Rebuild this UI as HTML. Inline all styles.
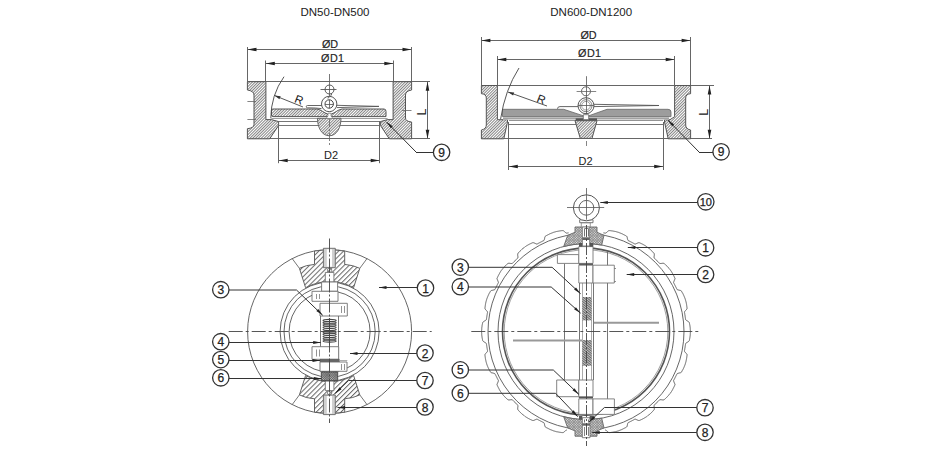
<!DOCTYPE html>
<html><head><meta charset="utf-8"><style>
html,body{margin:0;padding:0;background:#fff;width:940px;height:450px;overflow:hidden}
svg{display:block}
text{font-family:"Liberation Sans",sans-serif}
</style></head><body>
<svg width="940" height="450" viewBox="0 0 940 450">
<rect width="940" height="450" fill="#fff"/>
<defs>
<pattern id="h1" patternUnits="userSpaceOnUse" width="2.0" height="10" patternTransform="rotate(45)"><rect width="2.0" height="10" fill="#fff"/><line x1="0.5" y1="0" x2="0.5" y2="10" stroke="#777" stroke-width="0.9"/></pattern>
<pattern id="h2" patternUnits="userSpaceOnUse" width="3.5" height="10" patternTransform="rotate(45)"><rect width="3.5" height="10" fill="#fff"/><line x1="0.5" y1="0" x2="0.5" y2="10" stroke="#666" stroke-width="1.0"/></pattern>
<pattern id="h3" patternUnits="userSpaceOnUse" width="1.5" height="10" patternTransform="rotate(60)"><rect width="1.5" height="10" fill="#ddd"/><line x1="0.5" y1="0" x2="0.5" y2="10" stroke="#555" stroke-width="0.8"/></pattern>
<pattern id="x1" patternUnits="userSpaceOnUse" width="1.6" height="1.6" patternTransform="rotate(45)"><rect width="1.6" height="1.6" fill="#bbb"/><rect width="0.7" height="1.6" fill="#666"/><rect width="1.6" height="0.7" fill="#666"/></pattern>
<pattern id="x2" patternUnits="userSpaceOnUse" width="1.8" height="1.8" patternTransform="rotate(45)"><rect width="1.8" height="1.8" fill="#e4e4e4"/><rect width="0.75" height="1.8" fill="#888"/><rect width="1.8" height="0.75" fill="#888"/></pattern>
</defs>
<text x="335.0" y="16.0" font-size="11.5" text-anchor="middle" fill="#222" >DN50-DN500</text>
<text x="591.2" y="16.0" font-size="11.5" text-anchor="middle" fill="#222" >DN600-DN1200</text>
<line x1="247.5" y1="47.0" x2="247.5" y2="81.7" stroke="#666" stroke-width="1" />
<line x1="411.5" y1="47.0" x2="411.5" y2="81.7" stroke="#666" stroke-width="1" />
<line x1="265.5" y1="60.5" x2="265.5" y2="81.7" stroke="#666" stroke-width="1" />
<line x1="393.5" y1="60.5" x2="393.5" y2="81.7" stroke="#666" stroke-width="1" />
<line x1="247.5" y1="49.5" x2="411.5" y2="49.5" stroke="#666" stroke-width="1" />
<path d="M247.5,49.5 L256.5,47.7 L256.5,51.3 Z" fill="#222"/>
<path d="M411.5,49.5 L402.5,51.3 L402.5,47.7 Z" fill="#222"/>
<line x1="265.8" y1="63.5" x2="393.3" y2="63.5" stroke="#666" stroke-width="1" />
<path d="M265.8,63.5 L274.8,61.7 L274.8,65.3 Z" fill="#222"/>
<path d="M393.3,63.5 L384.3,65.3 L384.3,61.7 Z" fill="#222"/>
<text x="330.0" y="48.0" font-size="10.8" text-anchor="middle" fill="#222" stroke="#222" stroke-width="0.15">ØD</text>
<text x="332.8" y="61.7" font-size="10.8" text-anchor="middle" fill="#222" letter-spacing="0.4" stroke="#222" stroke-width="0.15">ØD1</text>
<line x1="247.5" y1="81.5" x2="430.0" y2="81.5" stroke="#666" stroke-width="1" />
<line x1="247.5" y1="138.5" x2="430.0" y2="138.5" stroke="#666" stroke-width="1" />
<line x1="427.5" y1="81.7" x2="427.5" y2="138.8" stroke="#666" stroke-width="1" />
<path d="M427.5,81.7 L429.3,90.7 L425.7,90.7 Z" fill="#222"/>
<path d="M427.5,138.8 L425.7,129.8 L429.3,129.8 Z" fill="#222"/>
<text x="421.0" y="112.0" font-size="12.5" text-anchor="middle" fill="#222" transform="rotate(-90 421 112)" dy="4.5">L</text>
<path d="M247.4,81.7 H265.9 V119.6 H271.4 L278.6,121.6 V125.4 L269.7,138.8 H247.4 V128.7 Q254,128 254,124.5 V95 Q254,91 247.4,90 Z" fill="url(#h1)" stroke="#555" stroke-width="1" />
<path d="M411.6,81.7 H393.1 V119.6 H387.6 L380.4,121.6 V125.4 L389.3,138.8 H411.6 V122 Q405.5,121.5 405.5,118 V95 Q405.5,91 411.6,90 Z" fill="url(#h1)" stroke="#555" stroke-width="1" />
<line x1="247.4" y1="101.5" x2="256.0" y2="101.5" stroke="#666" stroke-width="0.8" />
<line x1="247.4" y1="119.5" x2="256.0" y2="119.5" stroke="#666" stroke-width="0.8" />
<line x1="402.0" y1="110.5" x2="411.5" y2="110.5" stroke="#666" stroke-width="0.8" />
<path d="M273,109 H317 C321,109.5 324,113 327.5,114 H331.5 C335,113 338,109.5 342,109 H384 Q386,109 386,111.5 V116.6 H273 Q271.4,116.6 271.4,114 V110.5 Q271.4,109 273,109 Z" fill="url(#h1)" stroke="#555" stroke-width="1" />
<line x1="278.6" y1="121.5" x2="380.4" y2="121.5" stroke="#666" stroke-width="0.9" />
<line x1="278.6" y1="125.5" x2="380.4" y2="125.5" stroke="#666" stroke-width="0.9" />
<line x1="271.4" y1="118.5" x2="387.6" y2="118.5" stroke="#777" stroke-width="0.7" />
<path d="M317.5,118.3 H341 C341,127 337,135.8 329.3,135.8 C321.5,135.8 317.5,127 317.5,118.3 Z" fill="url(#h1)" stroke="#666" stroke-width="1" />
<path d="M328,113.2 H331 V116 L333,118.5 H326 L328,116 Z" fill="#fff" stroke="#666" stroke-width="0.6" />
<path d="M322,105.5 H307.5 Q306.3,105.5 306.3,106.6 Q306.3,107.8 307.5,107.8 Q316,107.8 321.5,108.6" fill="none" stroke="#555" stroke-width="0.9" />
<path d="M336.5,105.3 L379,106.4 L337,107.6" fill="none" stroke="#555" stroke-width="0.9" />
<circle cx="329.2" cy="104.0" r="7.7" fill="#fff" stroke="#555" stroke-width="1.0" />
<circle cx="329.2" cy="104.0" r="4.2" fill="none" stroke="#444" stroke-width="1.0" />
<line x1="325.0" y1="104.5" x2="333.5" y2="104.5" stroke="#555" stroke-width="0.8" />
<line x1="329.5" y1="99.8" x2="329.5" y2="108.3" stroke="#555" stroke-width="0.8" />
<circle cx="329.5" cy="89.5" r="4.5" fill="none" stroke="#444" stroke-width="0.9" />
<line x1="320.5" y1="89.5" x2="336.5" y2="89.5" stroke="#555" stroke-width="0.9" />
<path d="M331.5,93.3 Q332,95.5 330,96.5 Q327.5,97.5 328,98.5" fill="none" stroke="#555" stroke-width="0.9" />
<line x1="329.5" y1="74.0" x2="329.5" y2="96.0" stroke="#555" stroke-width="0.8" />
<line x1="329.5" y1="119.0" x2="329.5" y2="145.0" stroke="#666" stroke-width="0.8" stroke-dasharray="8 2 2 2"/>
<path d="M284,76.7 Q271,95 270.8,118.3" fill="none" stroke="#444" stroke-width="0.9" />
<line x1="274.5" y1="95.5" x2="303.0" y2="107.0" stroke="#444" stroke-width="0.9" />
<path d="M274.5,95.5 L280.7,96.2 L279.4,99.3 Z" fill="#333"/>
<text x="299.2" y="99.8" font-size="11.5" text-anchor="middle" fill="#222" transform="rotate(21 299.2 99.8)" dy="4.1">R</text>
<line x1="278.5" y1="121.0" x2="278.5" y2="163.2" stroke="#666" stroke-width="1" />
<line x1="379.5" y1="121.0" x2="379.5" y2="163.2" stroke="#666" stroke-width="1" />
<line x1="278.7" y1="160.5" x2="379.7" y2="160.5" stroke="#666" stroke-width="1" />
<path d="M278.7,160.5 L287.7,158.7 L287.7,162.3 Z" fill="#222"/>
<path d="M379.7,160.5 L370.7,162.3 L370.7,158.7 Z" fill="#222"/>
<text x="331.0" y="159.0" font-size="11" text-anchor="middle" fill="#222" >D2</text>
<line x1="386.5" y1="122.0" x2="416.0" y2="152.0" stroke="#333" stroke-width="1" />
<line x1="416.0" y1="152.5" x2="434.0" y2="152.5" stroke="#333" stroke-width="1" />
<path d="M386.5,122.0 L392.8,126.3 L390.8,128.3 Z" fill="#222"/>
<circle cx="441.6" cy="152.3" r="8.2" fill="#fff" stroke="#333" stroke-width="1.3"/>
<text x="441.6" y="156.8" font-size="12" text-anchor="middle" fill="#222" stroke="#222" stroke-width="0.25">9</text>
<line x1="481.5" y1="37.0" x2="481.5" y2="85.5" stroke="#666" stroke-width="1" />
<line x1="690.5" y1="37.0" x2="690.5" y2="85.5" stroke="#666" stroke-width="1" />
<line x1="497.5" y1="56.0" x2="497.5" y2="85.5" stroke="#666" stroke-width="1" />
<line x1="674.5" y1="56.0" x2="674.5" y2="85.5" stroke="#666" stroke-width="1" />
<line x1="481.4" y1="40.5" x2="690.6" y2="40.5" stroke="#666" stroke-width="1" />
<path d="M481.4,40.5 L490.4,38.7 L490.4,42.3 Z" fill="#222"/>
<path d="M690.6,40.5 L681.6,42.3 L681.6,38.7 Z" fill="#222"/>
<line x1="497.3" y1="59.5" x2="674.7" y2="59.5" stroke="#666" stroke-width="1" />
<path d="M497.3,59.5 L506.3,57.7 L506.3,61.3 Z" fill="#222"/>
<path d="M674.7,59.5 L665.7,61.3 L665.7,57.7 Z" fill="#222"/>
<text x="588.5" y="39.2" font-size="10.8" text-anchor="middle" fill="#222" stroke="#222" stroke-width="0.15">ØD</text>
<text x="589.8" y="57.4" font-size="10.8" text-anchor="middle" fill="#222" letter-spacing="0.4" stroke="#222" stroke-width="0.15">ØD1</text>
<line x1="481.4" y1="85.5" x2="714.0" y2="85.5" stroke="#666" stroke-width="1" />
<line x1="481.4" y1="138.5" x2="712.0" y2="138.5" stroke="#666" stroke-width="1" />
<line x1="709.5" y1="85.5" x2="709.5" y2="138.8" stroke="#666" stroke-width="1" />
<path d="M709.5,85.5 L711.3,94.5 L707.7,94.5 Z" fill="#222"/>
<path d="M709.5,138.8 L707.7,129.8 L711.3,129.8 Z" fill="#222"/>
<text x="703.3" y="112.2" font-size="12.5" text-anchor="middle" fill="#222" transform="rotate(-90 703.3 112.2)" dy="4.5">L</text>
<path d="M481.4,85.5 H497.4 V119.7 H507.5 V122 L503.8,138.8 H481.4 V130 Q486.3,129 486.3,125 V98 Q486.3,94 481.4,93.7 Z" fill="url(#h1)" stroke="#555" stroke-width="1" />
<path d="M690.6,85.5 H674.6 V116.7 L670,119.7 H664.5 V122 L668.2,138.8 H690.6 V130 Q685.7,129 685.7,125 V98 Q685.7,94 690.6,93.7 Z" fill="url(#h1)" stroke="#555" stroke-width="1" />
<path d="M503,116.5 H669 V119.8 H503 Z" fill="#c4c4c4" stroke="none" stroke-width="0" />
<path d="M502.5,109.3 H563.7 L583,115.7 H589 L607,109.3 H668 Q671,109.3 671,112 V116.6 H502.5 Z" fill="#9d9d9d" stroke="#666" stroke-width="0.8" />
<line x1="503.0" y1="118.5" x2="669.0" y2="118.5" stroke="#999" stroke-width="0.8" />
<line x1="509.0" y1="120.5" x2="663.0" y2="120.5" stroke="#888" stroke-width="0.9" />
<line x1="509.0" y1="124.5" x2="663.0" y2="124.5" stroke="#666" stroke-width="0.9" />
<path d="M575.7,118.3 H597 V120.3 H575.7 Z" fill="#555" stroke="none" stroke-width="0" />
<path d="M575,120.7 H597 L592,138.4 H580.3 Z" fill="url(#h1)" stroke="#555" stroke-width="1" />
<path d="M583.3,114.7 H588.7 V119.7 H583.3 Z" fill="#fff" stroke="#666" stroke-width="0.8" />
<path d="M557.5,108.8 Q557.5,106.6 560,106.6 H578" fill="none" stroke="#555" stroke-width="0.9" />
<path d="M594,104.3 L659,105.5 L594,106.6" fill="none" stroke="#555" stroke-width="0.9" />
<circle cx="586.0" cy="105.7" r="8.0" fill="#fff" stroke="#555" stroke-width="1" />
<circle cx="586.0" cy="105.7" r="6.0" fill="none" stroke="#666" stroke-width="0.8" />
<circle cx="586.0" cy="105.7" r="4.3" fill="none" stroke="#777" stroke-width="0.7" />
<line x1="578.0" y1="105.5" x2="594.0" y2="105.5" stroke="#555" stroke-width="0.8" />
<circle cx="586.0" cy="91.3" r="4.5" fill="none" stroke="#555" stroke-width="0.9" />
<line x1="576.6" y1="91.5" x2="596.2" y2="91.5" stroke="#666" stroke-width="0.8" />
<line x1="586.5" y1="76.2" x2="586.5" y2="114.0" stroke="#555" stroke-width="0.8" />
<line x1="586.5" y1="141.0" x2="586.5" y2="146.0" stroke="#666" stroke-width="0.8" />
<path d="M519,68 Q505,90 500.6,119" fill="none" stroke="#444" stroke-width="0.9" />
<line x1="508.0" y1="92.0" x2="547.0" y2="106.0" stroke="#444" stroke-width="0.9" />
<path d="M508.0,92.0 L514.2,92.4 L513.1,95.6 Z" fill="#333"/>
<text x="541.3" y="99.2" font-size="11.5" text-anchor="middle" fill="#222" transform="rotate(21 541.3 99.2)" dy="4.1">R</text>
<line x1="508.5" y1="122.0" x2="508.5" y2="170.0" stroke="#666" stroke-width="1" />
<line x1="663.5" y1="122.0" x2="663.5" y2="170.0" stroke="#666" stroke-width="1" />
<line x1="508.8" y1="166.5" x2="663.2" y2="166.5" stroke="#666" stroke-width="1" />
<path d="M508.8,166.5 L517.8,164.7 L517.8,168.3 Z" fill="#222"/>
<path d="M663.2,166.5 L654.2,168.3 L654.2,164.7 Z" fill="#222"/>
<text x="585.6" y="164.9" font-size="11" text-anchor="middle" fill="#222" >D2</text>
<line x1="667.8" y1="120.0" x2="699.0" y2="152.0" stroke="#333" stroke-width="1" />
<line x1="699.0" y1="152.5" x2="713.0" y2="152.5" stroke="#333" stroke-width="1" />
<path d="M667.8,120.0 L674.1,124.3 L672.1,126.3 Z" fill="#222"/>
<circle cx="721.1" cy="151.8" r="8.2" fill="#fff" stroke="#333" stroke-width="1.3"/>
<text x="721.1" y="156.3" font-size="12" text-anchor="middle" fill="#222" stroke="#222" stroke-width="0.25">9</text>
<circle cx="329.6" cy="331.6" r="82.0" fill="none" stroke="#555" stroke-width="0.9" />
<circle cx="329.6" cy="331.6" r="49.5" fill="none" stroke="#555" stroke-width="0.9" />
<circle cx="329.6" cy="331.6" r="45.6" fill="none" stroke="#555" stroke-width="0.9" />
<circle cx="329.6" cy="331.6" r="40.5" fill="none" stroke="#555" stroke-width="0.9" />
<path d="M314.5,251.0 V264.4 Q306,265 299.4,268.3 L305.6,287.7 A50,50 0 0 1 353.6,287.7 L359.8,268.3 Q353,265 344.7,264.4 V251.0 A82,82 0 0 0 314.5,251.0 Z" fill="url(#h2)" stroke="#555" stroke-width="0.9" />
<path d="M314.5,412.2 V398.8 Q306,398.2 299.4,394.9 L305.6,375.5 A50,50 0 0 0 353.6,375.5 L359.8,394.9 Q353,398.2 344.7,398.8 V412.2 A82,82 0 0 1 314.5,412.2 Z" fill="url(#h2)" stroke="#555" stroke-width="0.9" />
<line x1="299.4" y1="268.3" x2="292.2" y2="258.6" stroke="#666" stroke-width="0.9" />
<line x1="359.8" y1="268.3" x2="367.0" y2="258.6" stroke="#666" stroke-width="0.9" />
<line x1="299.4" y1="394.9" x2="292.2" y2="404.6" stroke="#666" stroke-width="0.9" />
<line x1="359.8" y1="394.9" x2="367.0" y2="404.6" stroke="#666" stroke-width="0.9" />
<path d="M323.4,248.3 H335.3 V267.7 H323.4 Z" fill="#d0d0d0" stroke="#666" stroke-width="0.9" />
<path d="M326.8,249.3 H332 V266.7 H326.8 Z" fill="#fff" stroke="none" stroke-width="0" />
<path d="M323.4,395 H335.3 V414.6 H323.4 Z" fill="#d0d0d0" stroke="#666" stroke-width="0.9" />
<path d="M326.8,396 H332 V413.6 H326.8 Z" fill="#fff" stroke="none" stroke-width="0" />
<circle cx="329.6" cy="270.2" r="2.2" fill="none" stroke="#666" stroke-width="0.8" />
<circle cx="329.6" cy="392.8" r="2.2" fill="none" stroke="#666" stroke-width="0.8" />
<path d="M325.3,272.4 H333.9 V282 H325.3 Z" fill="#fff" stroke="#666" stroke-width="0.8" />
<path d="M325.3,381 H333.9 V390.6 H325.3 Z" fill="#fff" stroke="#666" stroke-width="0.8" />
<path d="M321.6,282 H337.6 V291.3 H321.6 Z" fill="#fff" stroke="#707070" stroke-width="0.9" />
<path d="M312,291.3 H338 V301.3 H312 Z" fill="#fff" stroke="#707070" stroke-width="0.9" />
<line x1="316.5" y1="294.0" x2="316.5" y2="299.0" stroke="#777" stroke-width="0.8" />
<line x1="319.5" y1="294.0" x2="319.5" y2="299.0" stroke="#777" stroke-width="0.8" />
<path d="M320,303.3 H347.3 V316 H320 Z" fill="#fff" stroke="#707070" stroke-width="0.9" />
<line x1="341.5" y1="306.0" x2="341.5" y2="313.0" stroke="#777" stroke-width="0.8" />
<line x1="344.5" y1="306.0" x2="344.5" y2="313.0" stroke="#777" stroke-width="0.8" />
<line x1="320.5" y1="316.0" x2="320.5" y2="372.0" stroke="#666" stroke-width="0.9" />
<line x1="338.5" y1="316.0" x2="338.5" y2="372.0" stroke="#666" stroke-width="0.9" />
<ellipse cx="329.6" cy="320.4" rx="6.6" ry="1.05" fill="none" stroke="#444" stroke-width="1.1"/>
<ellipse cx="329.6" cy="322.7" rx="6.6" ry="1.05" fill="none" stroke="#444" stroke-width="1.1"/>
<ellipse cx="329.6" cy="325.0" rx="6.6" ry="1.05" fill="none" stroke="#444" stroke-width="1.1"/>
<ellipse cx="329.6" cy="327.3" rx="6.6" ry="1.05" fill="none" stroke="#444" stroke-width="1.1"/>
<ellipse cx="329.6" cy="329.6" rx="6.6" ry="1.05" fill="none" stroke="#444" stroke-width="1.1"/>
<ellipse cx="329.6" cy="331.9" rx="6.6" ry="1.05" fill="none" stroke="#444" stroke-width="1.1"/>
<ellipse cx="329.6" cy="334.2" rx="6.6" ry="1.05" fill="none" stroke="#444" stroke-width="1.1"/>
<ellipse cx="329.6" cy="336.5" rx="6.6" ry="1.05" fill="none" stroke="#444" stroke-width="1.1"/>
<ellipse cx="329.6" cy="338.8" rx="6.6" ry="1.05" fill="none" stroke="#444" stroke-width="1.1"/>
<ellipse cx="329.6" cy="341.1" rx="6.6" ry="1.05" fill="none" stroke="#444" stroke-width="1.1"/>
<line x1="329.5" y1="318.0" x2="329.5" y2="345.0" stroke="#444" stroke-width="0.9" />
<path d="M312,346.7 H338.7 V359.3 H312 Z" fill="#fff" stroke="#707070" stroke-width="0.9" />
<line x1="316.5" y1="349.5" x2="316.5" y2="356.5" stroke="#777" stroke-width="0.8" />
<line x1="319.5" y1="349.5" x2="319.5" y2="356.5" stroke="#777" stroke-width="0.8" />
<path d="M320,359.3 H339.3 V362 H320 Z" fill="#666" stroke="#555" stroke-width="0.6" />
<line x1="339.3" y1="360.5" x2="347.3" y2="360.5" stroke="#999" stroke-width="0.8" />
<path d="M320,362 H347 V371.3 H320 Z" fill="#fff" stroke="#707070" stroke-width="0.9" />
<line x1="341.5" y1="364.0" x2="341.5" y2="370.0" stroke="#777" stroke-width="0.8" />
<line x1="344.5" y1="364.0" x2="344.5" y2="370.0" stroke="#777" stroke-width="0.8" />
<path d="M321.3,372 H337.7 V380.7 H321.3 Z" fill="url(#x1)" stroke="#444" stroke-width="0.9" />
<line x1="329.5" y1="238.5" x2="329.5" y2="423.0" stroke="#444" stroke-width="0.9" stroke-dasharray="14 2 2 2"/>
<line x1="228.7" y1="331.5" x2="431.7" y2="331.5" stroke="#444" stroke-width="0.9" stroke-dasharray="14 3 3 3"/>
<path d="M228.8,290 H296.5 L322.7,315.3" fill="none" stroke="#333" stroke-width="1" />
<path d="M322.7,315.3 L316.3,311.1 L318.3,309.1 Z" fill="#222"/>
<line x1="228.8" y1="342.5" x2="320.7" y2="342.5" stroke="#333" stroke-width="1" />
<path d="M320.7,342.5 L313.2,343.9 L313.2,341.1 Z" fill="#222"/>
<line x1="228.8" y1="360.5" x2="320.0" y2="360.5" stroke="#333" stroke-width="1" />
<path d="M320.0,360.5 L312.5,361.9 L312.5,359.1 Z" fill="#222"/>
<line x1="228.8" y1="378.5" x2="321.3" y2="378.5" stroke="#333" stroke-width="1" />
<path d="M321.3,378.5 L313.8,379.9 L313.8,377.1 Z" fill="#222"/>
<circle cx="220.8" cy="289.7" r="8.2" fill="#fff" stroke="#333" stroke-width="1.3"/>
<text x="220.8" y="294.2" font-size="12" text-anchor="middle" fill="#222" stroke="#222" stroke-width="0.25">3</text>
<circle cx="220.8" cy="341.7" r="8.2" fill="#fff" stroke="#333" stroke-width="1.3"/>
<text x="220.8" y="346.2" font-size="12" text-anchor="middle" fill="#222" stroke="#222" stroke-width="0.25">4</text>
<circle cx="220.8" cy="359.6" r="8.2" fill="#fff" stroke="#333" stroke-width="1.3"/>
<text x="220.8" y="364.1" font-size="12" text-anchor="middle" fill="#222" stroke="#222" stroke-width="0.25">5</text>
<circle cx="220.8" cy="377.8" r="8.2" fill="#fff" stroke="#333" stroke-width="1.3"/>
<text x="220.8" y="382.3" font-size="12" text-anchor="middle" fill="#222" stroke="#222" stroke-width="0.25">6</text>
<line x1="417.5" y1="287.5" x2="379.0" y2="287.5" stroke="#333" stroke-width="1" />
<path d="M379.0,287.5 L386.5,286.1 L386.5,288.9 Z" fill="#222"/>
<line x1="417.0" y1="353.5" x2="350.0" y2="353.5" stroke="#333" stroke-width="1" />
<path d="M350.0,353.5 L357.5,352.1 L357.5,354.9 Z" fill="#222"/>
<path d="M417,380.5 H348.4 L335.2,393.4" fill="none" stroke="#333" stroke-width="1" />
<path d="M335.2,393.4 L339.6,387.2 L341.5,389.2 Z" fill="#222"/>
<line x1="417.0" y1="407.5" x2="337.5" y2="407.5" stroke="#333" stroke-width="1" />
<path d="M337.5,407.5 L345.0,406.1 L345.0,408.9 Z" fill="#222"/>
<circle cx="425.5" cy="288.0" r="8.2" fill="#fff" stroke="#333" stroke-width="1.3"/>
<text x="425.5" y="292.5" font-size="12" text-anchor="middle" fill="#222" stroke="#222" stroke-width="0.25">1</text>
<circle cx="425.0" cy="353.0" r="8.2" fill="#fff" stroke="#333" stroke-width="1.3"/>
<text x="425.0" y="357.5" font-size="12" text-anchor="middle" fill="#222" stroke="#222" stroke-width="0.25">2</text>
<circle cx="425.0" cy="380.5" r="8.2" fill="#fff" stroke="#333" stroke-width="1.3"/>
<text x="425.0" y="385.0" font-size="12" text-anchor="middle" fill="#222" stroke="#222" stroke-width="0.25">7</text>
<circle cx="425.0" cy="407.0" r="8.2" fill="#fff" stroke="#333" stroke-width="1.3"/>
<text x="425.0" y="411.5" font-size="12" text-anchor="middle" fill="#222" stroke="#222" stroke-width="0.25">8</text>
<path d="M603.4,232.8 L603.8,232.9 L604.1,232.9 L604.5,233.0 L604.8,233.1 L605.1,233.1 L605.5,233.1 L605.9,233.0 L606.3,232.7 L606.7,232.4 L607.2,231.9 L607.6,231.5 L608.1,231.1 L608.5,230.8 L608.9,230.6 L609.3,230.6 L609.7,230.6 L610.1,230.6 L610.4,230.7 L610.8,230.7 L611.1,230.8 L611.5,230.8 L611.9,230.9 L612.2,230.9 L612.6,231.0 L612.9,231.0 L613.3,231.1 L613.7,231.2 L614.0,231.2 L614.4,231.3 L614.7,231.4 L615.1,231.4 L615.5,231.5 L615.8,231.6 L616.2,231.7 L616.5,231.8 L616.9,231.9 L617.2,232.0 L617.6,232.1 L617.9,232.2 L618.3,232.3 L618.6,232.4 L619.0,232.5 L619.3,232.7 L619.6,232.8 L620.0,232.9 L620.3,233.1 L620.7,233.2 L621.0,233.3 L621.3,233.5 L621.7,233.6 L622.0,233.8 L622.3,233.9 L622.7,234.1 L623.0,234.2 L623.3,234.4 L623.6,234.6 L624.0,234.7 L624.3,234.9 L624.6,235.1 L624.9,235.3 L625.2,235.4 L625.6,235.6 L625.9,235.8 L626.2,236.0 L626.5,236.1 L626.8,236.4 L627.0,236.8 L627.2,237.3 L627.3,237.9 L627.4,238.5 L627.6,239.1 L627.7,239.7 L627.9,240.1 L628.1,240.5 L628.4,240.7 L628.7,240.8 L629.0,241.0 L629.3,241.1 L629.7,241.3 L630.0,241.5 L630.3,241.6 L630.6,241.8 L630.9,241.9 L631.2,242.1 L631.5,242.2 L631.8,242.4 L632.2,242.6 L632.5,242.7 L632.8,242.9 L633.1,243.0 L633.4,243.2 L633.7,243.4 L634.0,243.5 L634.3,243.7 L634.6,243.9 L635.0,244.0 L635.4,244.0 L635.9,243.8 L636.4,243.6 L636.9,243.4 L637.5,243.1 L638.1,242.9 L638.6,242.7 L639.0,242.6 L639.4,242.7 L639.7,242.9 L640.1,243.0 L640.4,243.2 L640.7,243.3 L641.1,243.5 L641.4,243.6 L641.7,243.8 L642.1,244.0 L642.4,244.1 L642.7,244.3 L643.0,244.5 L643.3,244.6 L643.7,244.8 L644.0,245.0 L644.3,245.2 L644.6,245.3 L644.9,245.5 L645.2,245.7 L645.6,245.9 L645.9,246.1 L646.2,246.3 L646.5,246.5 L646.8,246.7 L647.1,246.9 L647.4,247.1 L647.7,247.4 L647.9,247.6 L648.2,247.8 L648.5,248.0 L648.8,248.2 L649.1,248.5 L649.4,248.7 L649.6,249.0 L649.9,249.2 L650.2,249.4 L650.5,249.7 L650.7,249.9 L651.0,250.2 L651.3,250.4 L651.5,250.7 L651.8,250.9 L652.0,251.2 L652.3,251.5 L652.5,251.7 L652.8,252.0 L653.0,252.3 L653.3,252.5 L653.5,252.8 L653.8,253.1 L654.0,253.3 L654.2,253.7 L654.3,254.1 L654.3,254.7 L654.3,255.3 L654.2,255.9 L654.1,256.5 L654.1,257.1 L654.1,257.6 L654.2,258.0 L654.4,258.2 L654.7,258.5 L654.9,258.7 L655.2,259.0 L655.4,259.2 L655.7,259.5 L655.9,259.7 L656.2,259.9 L656.4,260.2 L656.7,260.4 L656.9,260.7 L657.2,260.9 L657.4,261.2 L657.7,261.4 L657.9,261.7 L658.1,261.9 L658.4,262.2 L658.6,262.4 L658.9,262.7 L659.1,262.9 L659.4,263.2 L659.6,263.4 L660.0,263.5 L660.5,263.5 L661.1,263.5 L661.7,263.4 L662.3,263.3 L662.9,263.3 L663.5,263.3 L663.9,263.4 L664.3,263.6 L664.5,263.8 L664.8,264.1 L665.1,264.3 L665.3,264.6 L665.6,264.8 L665.9,265.1 L666.1,265.3 L666.4,265.6 L666.7,265.8 L666.9,266.1 L667.2,266.3 L667.4,266.6 L667.7,266.9 L667.9,267.1 L668.2,267.4 L668.4,267.7 L668.6,268.0 L668.9,268.2 L669.1,268.5 L669.4,268.8 L669.6,269.1 L669.8,269.4 L670.0,269.7 L670.2,269.9 L670.5,270.2 L670.7,270.5 L670.9,270.8 L671.1,271.1 L671.3,271.4 L671.5,271.7 L671.7,272.0 L671.9,272.4 L672.1,272.7 L672.3,273.0 L672.4,273.3 L672.6,273.6 L672.8,273.9 L673.0,274.3 L673.1,274.6 L673.3,274.9 L673.5,275.2 L673.6,275.5 L673.8,275.9 L674.0,276.2 L674.1,276.5 L674.3,276.9 L674.4,277.2 L674.6,277.5 L674.7,277.9 L674.9,278.2 L675.0,278.6 L674.9,279.0 L674.7,279.5 L674.5,280.1 L674.2,280.7 L674.0,281.2 L673.8,281.7 L673.6,282.2 L673.6,282.6 L673.7,283.0 L673.9,283.3 L674.1,283.6 L674.2,283.9 L674.4,284.2 L674.6,284.5 L674.7,284.8 L674.9,285.1 L675.0,285.4 L675.2,285.8 L675.4,286.1 L675.5,286.4 L675.7,286.7 L675.8,287.0 L676.0,287.3 L676.1,287.6 L676.3,287.9 L676.5,288.3 L676.6,288.6 L676.8,288.9 L676.9,289.2 L677.1,289.5 L677.5,289.7 L677.9,289.9 L678.5,290.0 L679.1,290.2 L679.7,290.3 L680.3,290.4 L680.8,290.6 L681.2,290.8 L681.5,291.1 L681.6,291.4 L681.8,291.7 L682.0,292.0 L682.2,292.4 L682.3,292.7 L682.5,293.0 L682.7,293.3 L682.9,293.6 L683.0,294.0 L683.2,294.3 L683.4,294.6 L683.5,294.9 L683.7,295.3 L683.8,295.6 L684.0,295.9 L684.1,296.3 L684.3,296.6 L684.4,296.9 L684.5,297.3 L684.7,297.6 L684.8,298.0 L684.9,298.3 L685.1,298.6 L685.2,299.0 L685.3,299.3 L685.4,299.7 L685.5,300.0 L685.6,300.4 L685.7,300.7 L685.8,301.1 L685.9,301.4 L686.0,301.8 L686.1,302.1 L686.2,302.5 L686.2,302.9 L686.3,303.2 L686.4,303.6 L686.4,303.9 L686.5,304.3 L686.6,304.7 L686.6,305.0 L686.7,305.4 L686.7,305.7 L686.8,306.1 L686.8,306.5 L686.9,306.8 L686.9,307.2 L687.0,307.5 L687.0,307.9 L687.0,308.3 L687.0,308.7 L686.8,309.1 L686.5,309.5 L686.1,310.0 L685.7,310.4 L685.2,310.9 L684.9,311.3 L684.6,311.7 L684.5,312.1 L684.5,312.5 L684.5,312.8 L684.6,313.1 L684.7,313.5 L684.7,313.8 L684.8,314.2 L684.8,314.5 L684.9,314.9 L685.0,315.2 L685.0,315.6 L685.1,315.9 L685.1,316.3 L685.2,316.6 L685.2,316.9 L685.3,317.3 L685.3,317.6 L685.4,318.0 L685.4,318.3 L685.5,318.7 L685.5,319.0 L685.6,319.4 L685.7,319.7 L685.9,320.0 L686.3,320.3 L686.8,320.7 L687.3,320.9 L687.9,321.3 L688.4,321.6 L688.8,321.9 L689.1,322.2 L689.3,322.6 L689.4,322.9 L689.5,323.3 L689.5,323.6 L689.6,324.0 L689.7,324.4 L689.7,324.7 L689.8,325.1 L689.9,325.4 L689.9,325.8 L690.0,326.2 L690.0,326.5 L690.1,326.9 L690.1,327.2 L690.2,327.6 L690.2,328.0 L690.2,328.3 L690.3,328.7 L690.3,329.1 L690.3,329.4 L690.3,329.8 L690.4,330.1 L690.4,330.5 L690.4,330.9 L690.4,331.2 L690.4,331.6 L690.4,332.0 L690.4,332.3 L690.4,332.7 L690.4,333.1 L690.3,333.4 L690.3,333.8 L690.3,334.1 L690.3,334.5 L690.2,334.9 L690.2,335.2 L690.2,335.6 L690.1,336.0 L690.1,336.3 L690.0,336.7 L690.0,337.0 L689.9,337.4 L689.9,337.8 L689.8,338.1 L689.7,338.5 L689.7,338.8 L689.6,339.2 L689.5,339.6 L689.5,339.9 L689.4,340.3 L689.3,340.6 L689.1,341.0 L688.8,341.3 L688.4,341.6 L687.9,341.9 L687.3,342.3 L686.8,342.5 L686.3,342.9 L685.9,343.2 L685.7,343.5 L685.6,343.8 L685.5,344.2 L685.5,344.5 L685.4,344.9 L685.4,345.2 L685.3,345.6 L685.3,345.9 L685.2,346.3 L685.2,346.6 L685.1,346.9 L685.1,347.3 L685.0,347.6 L685.0,348.0 L684.9,348.3 L684.8,348.7 L684.8,349.0 L684.7,349.4 L684.7,349.7 L684.6,350.1 L684.5,350.4 L684.5,350.7 L684.5,351.1 L684.6,351.5 L684.9,351.9 L685.2,352.3 L685.7,352.8 L686.1,353.2 L686.5,353.7 L686.8,354.1 L687.0,354.5 L687.0,354.9 L687.0,355.3 L687.0,355.7 L686.9,356.0 L686.9,356.4 L686.8,356.7 L686.8,357.1 L686.7,357.5 L686.7,357.8 L686.6,358.2 L686.6,358.5 L686.5,358.9 L686.4,359.3 L686.4,359.6 L686.3,360.0 L686.2,360.3 L686.2,360.7 L686.1,361.1 L686.0,361.4 L685.9,361.8 L685.8,362.1 L685.7,362.5 L685.6,362.8 L685.5,363.2 L685.4,363.5 L685.3,363.9 L685.2,364.2 L685.1,364.6 L684.9,364.9 L684.8,365.2 L684.7,365.6 L684.5,365.9 L684.4,366.3 L684.3,366.6 L684.1,366.9 L684.0,367.3 L683.8,367.6 L683.7,367.9 L683.5,368.3 L683.4,368.6 L683.2,368.9 L683.0,369.2 L682.9,369.6 L682.7,369.9 L682.5,370.2 L682.3,370.5 L682.2,370.8 L682.0,371.2 L681.8,371.5 L681.6,371.8 L681.5,372.1 L681.2,372.4 L680.8,372.6 L680.3,372.8 L679.7,372.9 L679.1,373.0 L678.5,373.2 L677.9,373.3 L677.5,373.5 L677.1,373.7 L676.9,374.0 L676.8,374.3 L676.6,374.6 L676.5,374.9 L676.3,375.3 L676.1,375.6 L676.0,375.9 L675.8,376.2 L675.7,376.5 L675.5,376.8 L675.4,377.1 L675.2,377.4 L675.0,377.8 L674.9,378.1 L674.7,378.4 L674.6,378.7 L674.4,379.0 L674.2,379.3 L674.1,379.6 L673.9,379.9 L673.7,380.2 L673.6,380.6 L673.6,381.0 L673.8,381.5 L674.0,382.0 L674.2,382.5 L674.5,383.1 L674.7,383.7 L674.9,384.2 L675.0,384.6 L674.9,385.0 L674.7,385.3 L674.6,385.7 L674.4,386.0 L674.3,386.3 L674.1,386.7 L674.0,387.0 L673.8,387.3 L673.6,387.7 L673.5,388.0 L673.3,388.3 L673.1,388.6 L673.0,388.9 L672.8,389.3 L672.6,389.6 L672.4,389.9 L672.3,390.2 L672.1,390.5 L671.9,390.8 L671.7,391.2 L671.5,391.5 L671.3,391.8 L671.1,392.1 L670.9,392.4 L670.7,392.7 L670.5,393.0 L670.2,393.3 L670.0,393.5 L669.8,393.8 L669.6,394.1 L669.4,394.4 L669.1,394.7 L668.9,395.0 L668.6,395.2 L668.4,395.5 L668.2,395.8 L667.9,396.1 L667.7,396.3 L667.4,396.6 L667.2,396.9 L666.9,397.1 L666.7,397.4 L666.4,397.6 L666.1,397.9 L665.9,398.1 L665.6,398.4 L665.3,398.6 L665.1,398.9 L664.8,399.1 L664.5,399.4 L664.3,399.6 L663.9,399.8 L663.5,399.9 L662.9,399.9 L662.3,399.9 L661.7,399.8 L661.1,399.7 L660.5,399.7 L660.0,399.7 L659.6,399.8 L659.4,400.0 L659.1,400.3 L658.9,400.5 L658.6,400.8 L658.4,401.0 L658.1,401.3 L657.9,401.5 L657.7,401.8 L657.4,402.0 L657.2,402.3 L656.9,402.5 L656.7,402.8 L656.4,403.0 L656.2,403.3 L655.9,403.5 L655.7,403.7 L655.4,404.0 L655.2,404.2 L654.9,404.5 L654.7,404.7 L654.4,405.0 L654.2,405.2 L654.1,405.6 L654.1,406.1 L654.1,406.7 L654.2,407.3 L654.3,407.9 L654.3,408.5 L654.3,409.1 L654.2,409.5 L654.0,409.9 L653.8,410.1 L653.5,410.4 L653.3,410.7 L653.0,410.9 L652.8,411.2 L652.5,411.5 L652.3,411.7 L652.0,412.0 L651.8,412.3 L651.5,412.5 L651.3,412.8 L651.0,413.0 L650.7,413.3 L650.5,413.5 L650.2,413.8 L649.9,414.0 L649.6,414.2 L649.4,414.5 L649.1,414.7 L648.8,415.0 L648.5,415.2 L648.2,415.4 L647.9,415.6 L647.7,415.8 L647.4,416.1 L647.1,416.3 L646.8,416.5 L646.5,416.7 L646.2,416.9 L645.9,417.1 L645.6,417.3 L645.2,417.5 L644.9,417.7 L644.6,417.9 L644.3,418.0 L644.0,418.2 L643.7,418.4 L643.3,418.6 L643.0,418.7 L642.7,418.9 L642.4,419.1 L642.1,419.2 L641.7,419.4 L641.4,419.6 L641.1,419.7 L640.7,419.9 L640.4,420.0 L640.1,420.2 L639.7,420.3 L639.4,420.5 L639.0,420.6 L638.6,420.5 L638.1,420.3 L637.5,420.1 L636.9,419.8 L636.4,419.6 L635.9,419.4 L635.4,419.2 L635.0,419.2 L634.6,419.3 L634.3,419.5 L634.0,419.7 L633.7,419.8 L633.4,420.0 L633.1,420.2 L632.8,420.3 L632.5,420.5 L632.2,420.6 L631.8,420.8 L631.5,421.0 L631.2,421.1 L630.9,421.3 L630.6,421.4 L630.3,421.6 L630.0,421.7 L629.7,421.9 L629.3,422.1 L629.0,422.2 L628.7,422.4 L628.4,422.5 L628.1,422.7 L627.9,423.1 L627.7,423.5 L627.6,424.1 L627.4,424.7 L627.3,425.3 L627.2,425.9 L627.0,426.4 L626.8,426.8 L626.5,427.1 L626.2,427.2 L625.9,427.4 L625.6,427.6 L625.2,427.8 L624.9,427.9 L624.6,428.1 L624.3,428.3 L624.0,428.5 L623.6,428.6 L623.3,428.8 L623.0,429.0 L622.7,429.1 L622.3,429.3 L622.0,429.4 L621.7,429.6 L621.3,429.7 L621.0,429.9 L620.7,430.0 L620.3,430.1 L620.0,430.3 L619.6,430.4 L619.3,430.5 L619.0,430.7 L618.6,430.8 L618.3,430.9 L617.9,431.0 L617.6,431.1 L617.2,431.2 L616.9,431.3 L616.5,431.4 L616.2,431.5 L615.8,431.6 L615.5,431.7 L615.1,431.8 L614.7,431.8 L614.4,431.9 L614.0,432.0 L613.7,432.0 L613.3,432.1 L612.9,432.2 L612.6,432.2 L612.2,432.3 L611.9,432.3 L611.5,432.4 L611.1,432.4 L610.8,432.5 L610.4,432.5 L610.1,432.6 L609.7,432.6 L609.3,432.6 L608.9,432.6 L608.5,432.4 L608.1,432.1 L607.6,431.7 L607.2,431.3 L606.7,430.8 L606.3,430.5 L605.9,430.2 L605.5,430.1 L605.1,430.1" fill="none" stroke="#555" stroke-width="0.95" />
<path d="M566.9,430.1 L566.5,430.1 L566.1,430.2 L565.7,430.5 L565.3,430.8 L564.8,431.3 L564.4,431.7 L563.9,432.1 L563.5,432.4 L563.1,432.6 L562.7,432.6 L562.3,432.6 L561.9,432.6 L561.6,432.5 L561.2,432.5 L560.9,432.4 L560.5,432.4 L560.1,432.3 L559.8,432.3 L559.4,432.2 L559.1,432.2 L558.7,432.1 L558.3,432.0 L558.0,432.0 L557.6,431.9 L557.3,431.8 L556.9,431.8 L556.5,431.7 L556.2,431.6 L555.8,431.5 L555.5,431.4 L555.1,431.3 L554.8,431.2 L554.4,431.1 L554.1,431.0 L553.7,430.9 L553.4,430.8 L553.0,430.7 L552.7,430.5 L552.4,430.4 L552.0,430.3 L551.7,430.1 L551.3,430.0 L551.0,429.9 L550.7,429.7 L550.3,429.6 L550.0,429.4 L549.7,429.3 L549.3,429.1 L549.0,429.0 L548.7,428.8 L548.4,428.6 L548.0,428.5 L547.7,428.3 L547.4,428.1 L547.1,427.9 L546.8,427.8 L546.4,427.6 L546.1,427.4 L545.8,427.2 L545.5,427.1 L545.2,426.8 L545.0,426.4 L544.8,425.9 L544.7,425.3 L544.6,424.7 L544.4,424.1 L544.3,423.5 L544.1,423.1 L543.9,422.7 L543.6,422.5 L543.3,422.4 L543.0,422.2 L542.7,422.1 L542.3,421.9 L542.0,421.7 L541.7,421.6 L541.4,421.4 L541.1,421.3 L540.8,421.1 L540.5,421.0 L540.2,420.8 L539.8,420.6 L539.5,420.5 L539.2,420.3 L538.9,420.2 L538.6,420.0 L538.3,419.8 L538.0,419.7 L537.7,419.5 L537.4,419.3 L537.0,419.2 L536.6,419.2 L536.1,419.4 L535.6,419.6 L535.1,419.8 L534.5,420.1 L533.9,420.3 L533.4,420.5 L533.0,420.6 L532.6,420.5 L532.3,420.3 L531.9,420.2 L531.6,420.0 L531.3,419.9 L530.9,419.7 L530.6,419.6 L530.3,419.4 L529.9,419.2 L529.6,419.1 L529.3,418.9 L529.0,418.7 L528.7,418.6 L528.3,418.4 L528.0,418.2 L527.7,418.0 L527.4,417.9 L527.1,417.7 L526.8,417.5 L526.4,417.3 L526.1,417.1 L525.8,416.9 L525.5,416.7 L525.2,416.5 L524.9,416.3 L524.6,416.1 L524.3,415.8 L524.1,415.6 L523.8,415.4 L523.5,415.2 L523.2,415.0 L522.9,414.7 L522.6,414.5 L522.4,414.2 L522.1,414.0 L521.8,413.8 L521.5,413.5 L521.3,413.3 L521.0,413.0 L520.7,412.8 L520.5,412.5 L520.2,412.3 L520.0,412.0 L519.7,411.7 L519.5,411.5 L519.2,411.2 L519.0,410.9 L518.7,410.7 L518.5,410.4 L518.2,410.1 L518.0,409.9 L517.8,409.5 L517.7,409.1 L517.7,408.5 L517.7,407.9 L517.8,407.3 L517.9,406.7 L517.9,406.1 L517.9,405.6 L517.8,405.2 L517.6,405.0 L517.3,404.7 L517.1,404.5 L516.8,404.2 L516.6,404.0 L516.3,403.7 L516.1,403.5 L515.8,403.3 L515.6,403.0 L515.3,402.8 L515.1,402.5 L514.8,402.3 L514.6,402.0 L514.3,401.8 L514.1,401.5 L513.9,401.3 L513.6,401.0 L513.4,400.8 L513.1,400.5 L512.9,400.3 L512.6,400.0 L512.4,399.8 L512.0,399.7 L511.5,399.7 L510.9,399.7 L510.3,399.8 L509.7,399.9 L509.1,399.9 L508.5,399.9 L508.1,399.8 L507.7,399.6 L507.5,399.4 L507.2,399.1 L506.9,398.9 L506.7,398.6 L506.4,398.4 L506.1,398.1 L505.9,397.9 L505.6,397.6 L505.3,397.4 L505.1,397.1 L504.8,396.9 L504.6,396.6 L504.3,396.3 L504.1,396.1 L503.8,395.8 L503.6,395.5 L503.4,395.2 L503.1,395.0 L502.9,394.7 L502.6,394.4 L502.4,394.1 L502.2,393.8 L502.0,393.5 L501.8,393.3 L501.5,393.0 L501.3,392.7 L501.1,392.4 L500.9,392.1 L500.7,391.8 L500.5,391.5 L500.3,391.2 L500.1,390.8 L499.9,390.5 L499.7,390.2 L499.6,389.9 L499.4,389.6 L499.2,389.3 L499.0,388.9 L498.9,388.6 L498.7,388.3 L498.5,388.0 L498.4,387.7 L498.2,387.3 L498.0,387.0 L497.9,386.7 L497.7,386.3 L497.6,386.0 L497.4,385.7 L497.3,385.3 L497.1,385.0 L497.0,384.6 L497.1,384.2 L497.3,383.7 L497.5,383.1 L497.8,382.5 L498.0,382.0 L498.2,381.5 L498.4,381.0 L498.4,380.6 L498.3,380.2 L498.1,379.9 L497.9,379.6 L497.8,379.3 L497.6,379.0 L497.4,378.7 L497.3,378.4 L497.1,378.1 L497.0,377.8 L496.8,377.4 L496.6,377.1 L496.5,376.8 L496.3,376.5 L496.2,376.2 L496.0,375.9 L495.9,375.6 L495.7,375.3 L495.5,374.9 L495.4,374.6 L495.2,374.3 L495.1,374.0 L494.9,373.7 L494.5,373.5 L494.1,373.3 L493.5,373.2 L492.9,373.0 L492.3,372.9 L491.7,372.8 L491.2,372.6 L490.8,372.4 L490.5,372.1 L490.4,371.8 L490.2,371.5 L490.0,371.2 L489.8,370.8 L489.7,370.5 L489.5,370.2 L489.3,369.9 L489.1,369.6 L489.0,369.2 L488.8,368.9 L488.6,368.6 L488.5,368.3 L488.3,367.9 L488.2,367.6 L488.0,367.3 L487.9,366.9 L487.7,366.6 L487.6,366.3 L487.5,365.9 L487.3,365.6 L487.2,365.2 L487.1,364.9 L486.9,364.6 L486.8,364.2 L486.7,363.9 L486.6,363.5 L486.5,363.2 L486.4,362.8 L486.3,362.5 L486.2,362.1 L486.1,361.8 L486.0,361.4 L485.9,361.1 L485.8,360.7 L485.8,360.3 L485.7,360.0 L485.6,359.6 L485.6,359.3 L485.5,358.9 L485.4,358.5 L485.4,358.2 L485.3,357.8 L485.3,357.5 L485.2,357.1 L485.2,356.7 L485.1,356.4 L485.1,356.0 L485.0,355.7 L485.0,355.3 L485.0,354.9 L485.0,354.5 L485.2,354.1 L485.5,353.7 L485.9,353.2 L486.3,352.8 L486.8,352.3 L487.1,351.9 L487.4,351.5 L487.5,351.1 L487.5,350.7 L487.5,350.4 L487.4,350.1 L487.3,349.7 L487.3,349.4 L487.2,349.0 L487.2,348.7 L487.1,348.3 L487.0,348.0 L487.0,347.6 L486.9,347.3 L486.9,346.9 L486.8,346.6 L486.8,346.3 L486.7,345.9 L486.7,345.6 L486.6,345.2 L486.6,344.9 L486.5,344.5 L486.5,344.2 L486.4,343.8 L486.3,343.5 L486.1,343.2 L485.7,342.9 L485.2,342.5 L484.7,342.3 L484.1,341.9 L483.6,341.6 L483.2,341.3 L482.9,341.0 L482.7,340.6 L482.6,340.3 L482.5,339.9 L482.5,339.6 L482.4,339.2 L482.3,338.8 L482.3,338.5 L482.2,338.1 L482.1,337.8 L482.1,337.4 L482.0,337.0 L482.0,336.7 L481.9,336.3 L481.9,336.0 L481.8,335.6 L481.8,335.2 L481.8,334.9 L481.7,334.5 L481.7,334.1 L481.7,333.8 L481.7,333.4 L481.6,333.1 L481.6,332.7 L481.6,332.3 L481.6,332.0 L481.6,331.6 L481.6,331.2 L481.6,330.9 L481.6,330.5 L481.6,330.1 L481.7,329.8 L481.7,329.4 L481.7,329.1 L481.7,328.7 L481.8,328.3 L481.8,328.0 L481.8,327.6 L481.9,327.2 L481.9,326.9 L482.0,326.5 L482.0,326.2 L482.1,325.8 L482.1,325.4 L482.2,325.1 L482.3,324.7 L482.3,324.4 L482.4,324.0 L482.5,323.6 L482.5,323.3 L482.6,322.9 L482.7,322.6 L482.9,322.2 L483.2,321.9 L483.6,321.6 L484.1,321.3 L484.7,320.9 L485.2,320.7 L485.7,320.3 L486.1,320.0 L486.3,319.7 L486.4,319.4 L486.5,319.0 L486.5,318.7 L486.6,318.3 L486.6,318.0 L486.7,317.6 L486.7,317.3 L486.8,316.9 L486.8,316.6 L486.9,316.3 L486.9,315.9 L487.0,315.6 L487.0,315.2 L487.1,314.9 L487.2,314.5 L487.2,314.2 L487.3,313.8 L487.3,313.5 L487.4,313.1 L487.5,312.8 L487.5,312.5 L487.5,312.1 L487.4,311.7 L487.1,311.3 L486.8,310.9 L486.3,310.4 L485.9,310.0 L485.5,309.5 L485.2,309.1 L485.0,308.7 L485.0,308.3 L485.0,307.9 L485.0,307.5 L485.1,307.2 L485.1,306.8 L485.2,306.5 L485.2,306.1 L485.3,305.7 L485.3,305.4 L485.4,305.0 L485.4,304.7 L485.5,304.3 L485.6,303.9 L485.6,303.6 L485.7,303.2 L485.8,302.9 L485.8,302.5 L485.9,302.1 L486.0,301.8 L486.1,301.4 L486.2,301.1 L486.3,300.7 L486.4,300.4 L486.5,300.0 L486.6,299.7 L486.7,299.3 L486.8,299.0 L486.9,298.6 L487.1,298.3 L487.2,298.0 L487.3,297.6 L487.5,297.3 L487.6,296.9 L487.7,296.6 L487.9,296.3 L488.0,295.9 L488.2,295.6 L488.3,295.3 L488.5,294.9 L488.6,294.6 L488.8,294.3 L489.0,294.0 L489.1,293.6 L489.3,293.3 L489.5,293.0 L489.7,292.7 L489.8,292.4 L490.0,292.0 L490.2,291.7 L490.4,291.4 L490.5,291.1 L490.8,290.8 L491.2,290.6 L491.7,290.4 L492.3,290.3 L492.9,290.2 L493.5,290.0 L494.1,289.9 L494.5,289.7 L494.9,289.5 L495.1,289.2 L495.2,288.9 L495.4,288.6 L495.5,288.3 L495.7,287.9 L495.9,287.6 L496.0,287.3 L496.2,287.0 L496.3,286.7 L496.5,286.4 L496.6,286.1 L496.8,285.8 L497.0,285.4 L497.1,285.1 L497.3,284.8 L497.4,284.5 L497.6,284.2 L497.8,283.9 L497.9,283.6 L498.1,283.3 L498.3,283.0 L498.4,282.6 L498.4,282.2 L498.2,281.7 L498.0,281.2 L497.8,280.7 L497.5,280.1 L497.3,279.5 L497.1,279.0 L497.0,278.6 L497.1,278.2 L497.3,277.9 L497.4,277.5 L497.6,277.2 L497.7,276.9 L497.9,276.5 L498.0,276.2 L498.2,275.9 L498.4,275.5 L498.5,275.2 L498.7,274.9 L498.9,274.6 L499.0,274.3 L499.2,273.9 L499.4,273.6 L499.6,273.3 L499.7,273.0 L499.9,272.7 L500.1,272.4 L500.3,272.0 L500.5,271.7 L500.7,271.4 L500.9,271.1 L501.1,270.8 L501.3,270.5 L501.5,270.2 L501.8,269.9 L502.0,269.7 L502.2,269.4 L502.4,269.1 L502.6,268.8 L502.9,268.5 L503.1,268.2 L503.4,268.0 L503.6,267.7 L503.8,267.4 L504.1,267.1 L504.3,266.9 L504.6,266.6 L504.8,266.3 L505.1,266.1 L505.3,265.8 L505.6,265.6 L505.9,265.3 L506.1,265.1 L506.4,264.8 L506.7,264.6 L506.9,264.3 L507.2,264.1 L507.5,263.8 L507.7,263.6 L508.1,263.4 L508.5,263.3 L509.1,263.3 L509.7,263.3 L510.3,263.4 L510.9,263.5 L511.5,263.5 L512.0,263.5 L512.4,263.4 L512.6,263.2 L512.9,262.9 L513.1,262.7 L513.4,262.4 L513.6,262.2 L513.9,261.9 L514.1,261.7 L514.3,261.4 L514.6,261.2 L514.8,260.9 L515.1,260.7 L515.3,260.4 L515.6,260.2 L515.8,259.9 L516.1,259.7 L516.3,259.5 L516.6,259.2 L516.8,259.0 L517.1,258.7 L517.3,258.5 L517.6,258.2 L517.8,258.0 L517.9,257.6 L517.9,257.1 L517.9,256.5 L517.8,255.9 L517.7,255.3 L517.7,254.7 L517.7,254.1 L517.8,253.7 L518.0,253.3 L518.2,253.1 L518.5,252.8 L518.7,252.5 L519.0,252.3 L519.2,252.0 L519.5,251.7 L519.7,251.5 L520.0,251.2 L520.2,250.9 L520.5,250.7 L520.7,250.4 L521.0,250.2 L521.3,249.9 L521.5,249.7 L521.8,249.4 L522.1,249.2 L522.4,249.0 L522.6,248.7 L522.9,248.5 L523.2,248.2 L523.5,248.0 L523.8,247.8 L524.1,247.6 L524.3,247.4 L524.6,247.1 L524.9,246.9 L525.2,246.7 L525.5,246.5 L525.8,246.3 L526.1,246.1 L526.4,245.9 L526.8,245.7 L527.1,245.5 L527.4,245.3 L527.7,245.2 L528.0,245.0 L528.3,244.8 L528.7,244.6 L529.0,244.5 L529.3,244.3 L529.6,244.1 L529.9,244.0 L530.3,243.8 L530.6,243.6 L530.9,243.5 L531.3,243.3 L531.6,243.2 L531.9,243.0 L532.3,242.9 L532.6,242.7 L533.0,242.6 L533.4,242.7 L533.9,242.9 L534.5,243.1 L535.1,243.4 L535.6,243.6 L536.1,243.8 L536.6,244.0 L537.0,244.0 L537.4,243.9 L537.7,243.7 L538.0,243.5 L538.3,243.4 L538.6,243.2 L538.9,243.0 L539.2,242.9 L539.5,242.7 L539.8,242.6 L540.2,242.4 L540.5,242.2 L540.8,242.1 L541.1,241.9 L541.4,241.8 L541.7,241.6 L542.0,241.5 L542.3,241.3 L542.7,241.1 L543.0,241.0 L543.3,240.8 L543.6,240.7 L543.9,240.5 L544.1,240.1 L544.3,239.7 L544.4,239.1 L544.6,238.5 L544.7,237.9 L544.8,237.3 L545.0,236.8 L545.2,236.4 L545.5,236.1 L545.8,236.0 L546.1,235.8 L546.4,235.6 L546.8,235.4 L547.1,235.3 L547.4,235.1 L547.7,234.9 L548.0,234.7 L548.4,234.6 L548.7,234.4 L549.0,234.2 L549.3,234.1 L549.7,233.9 L550.0,233.8 L550.3,233.6 L550.7,233.5 L551.0,233.3 L551.3,233.2 L551.7,233.1 L552.0,232.9 L552.4,232.8 L552.7,232.7 L553.0,232.5 L553.4,232.4 L553.7,232.3 L554.1,232.2 L554.4,232.1 L554.8,232.0 L555.1,231.9 L555.5,231.8 L555.8,231.7 L556.2,231.6 L556.5,231.5 L556.9,231.4 L557.3,231.4 L557.6,231.3 L558.0,231.2 L558.3,231.2 L558.7,231.1 L559.1,231.0 L559.4,231.0 L559.8,230.9 L560.1,230.9 L560.5,230.8 L560.9,230.8 L561.2,230.7 L561.6,230.7 L561.9,230.6 L562.3,230.6 L562.7,230.6 L563.1,230.6 L563.5,230.8 L563.9,231.1 L564.4,231.5 L564.8,231.9 L565.3,232.4 L565.7,232.7 L566.1,233.0 L566.5,233.1 L566.9,233.1 L567.2,233.1 L567.5,233.0 L567.9,232.9 L568.2,232.9 L568.6,232.8" fill="none" stroke="#555" stroke-width="0.95" />
<circle cx="586.0" cy="331.6" r="98.0" fill="none" stroke="#555" stroke-width="0.9" />
<circle cx="586.0" cy="331.6" r="88.0" fill="none" stroke="#555" stroke-width="0.9" />
<circle cx="586.0" cy="331.6" r="83.5" fill="none" stroke="#555" stroke-width="1.6" />
<circle cx="586.0" cy="331.6" r="81.8" fill="none" stroke="#777" stroke-width="0.7" />
<line x1="564.5" y1="263.4" x2="564.5" y2="380.0" stroke="#666" stroke-width="0.9" />
<line x1="607.5" y1="252.0" x2="607.5" y2="399.0" stroke="#666" stroke-width="0.9" />
<line x1="579.5" y1="283.0" x2="579.5" y2="380.0" stroke="#666" stroke-width="0.9" />
<line x1="593.5" y1="283.0" x2="593.5" y2="380.0" stroke="#666" stroke-width="0.9" />
<line x1="582.5" y1="283.0" x2="582.5" y2="380.0" stroke="#888" stroke-width="0.7" />
<line x1="591.5" y1="283.0" x2="591.5" y2="380.0" stroke="#888" stroke-width="0.7" />
<path d="M582.3,297 H591.6 V320.4 H582.3 Z" fill="url(#h3)" stroke="none" stroke-width="0" />
<path d="M582.3,340 H591.6 V365.8 H582.3 Z" fill="url(#h3)" stroke="none" stroke-width="0" />
<line x1="593.9" y1="322.8" x2="659.0" y2="322.8" stroke="#999" stroke-width="2" />
<line x1="513.0" y1="340.5" x2="582.0" y2="340.5" stroke="#999" stroke-width="2" />
<path d="M557.4,254.6 H578.8 V263.4 H557.4 Z" fill="#fff" stroke="#777" stroke-width="0.9" />
<path d="M578.8,246.6 H593 V263.4 H578.8 Z" fill="#fff" stroke="#777" stroke-width="0.9" />
<line x1="578.8" y1="264.3" x2="593.0" y2="264.3" stroke="#555" stroke-width="1.6" />
<path d="M578.8,265.2 H593 V283 H578.8 Z" fill="#fff" stroke="#777" stroke-width="0.9" />
<path d="M593,265.2 H614.3 V283 H593 Z" fill="#fff" stroke="#777" stroke-width="0.9" />
<line x1="614.3" y1="268.5" x2="616.0" y2="268.5" stroke="#666" stroke-width="0.7" />
<line x1="614.3" y1="281.5" x2="616.0" y2="281.5" stroke="#666" stroke-width="0.7" />
<path d="M556.7,380 H578.8 V396.7 H556.7 Z" fill="#fff" stroke="#777" stroke-width="0.9" />
<path d="M578.8,380 H593 V396.7 H578.8 Z" fill="#fff" stroke="#777" stroke-width="0.9" />
<line x1="578.8" y1="397.7" x2="593.0" y2="397.7" stroke="#555" stroke-width="1.6" />
<path d="M578.8,398.9 H593 V414.4 H578.8 Z" fill="#fff" stroke="#777" stroke-width="0.9" />
<path d="M593,398.9 H614.4 V414.4 H593 Z" fill="#fff" stroke="#777" stroke-width="0.9" />
<path d="M575,227 H597 V232.3 L604,235.3 L601.7,245.0 A88,88 0 0 0 563.7,246.5 L567.7,235.3 L575,232.3 Z" fill="url(#x2)" stroke="#666" stroke-width="0.9" />
<path d="M575,436.2 H597 V430.9 L604,427.9 L601.7,418.2 A88,88 0 0 1 563.7,416.7 L567.7,427.9 L575,430.9 Z" fill="url(#x2)" stroke="#666" stroke-width="0.9" />
<path d="M581.3,222.7 H590.3 V227 H581.3 Z" fill="#fff" stroke="#777" stroke-width="0.7" />
<path d="M582.3,227 H589.7 V246 H582.3 Z" fill="#fff" stroke="#666" stroke-width="0.8" />
<line x1="584.5" y1="229.0" x2="584.5" y2="236.5" stroke="#666" stroke-width="0.9" />
<line x1="588.5" y1="229.0" x2="588.5" y2="236.5" stroke="#666" stroke-width="0.9" />
<line x1="584.3" y1="228.5" x2="588.7" y2="228.5" stroke="#666" stroke-width="0.9" />
<path d="M582.3,237.3 H589.7 V240 H582.3 Z" fill="#666" stroke="none" stroke-width="0" />
<path d="M579,243 H582.3 V246.7 H579 Z" fill="#555" stroke="none" stroke-width="0" />
<path d="M589.7,243 H593.3 V246.7 H589.7 Z" fill="#555" stroke="none" stroke-width="0" />
<path d="M579.7,219.7 H593 V222.7 H579.7 Z" fill="#fff" stroke="#666" stroke-width="0.9" />
<path d="M582.3,417.7 H590 V437.7 H582.3 Z" fill="#fff" stroke="#666" stroke-width="0.8" />
<line x1="584.5" y1="419.5" x2="584.5" y2="422.5" stroke="#666" stroke-width="0.9" />
<line x1="588.5" y1="419.5" x2="588.5" y2="422.5" stroke="#666" stroke-width="0.9" />
<path d="M582.3,423.3 H590 V425.7 H582.3 Z" fill="#666" stroke="none" stroke-width="0" />
<line x1="584.5" y1="427.0" x2="584.5" y2="436.0" stroke="#777" stroke-width="0.9" />
<line x1="588.5" y1="427.0" x2="588.5" y2="436.0" stroke="#777" stroke-width="0.9" />
<path d="M579,416 H582.3 V419.5 H579 Z" fill="#555" stroke="none" stroke-width="0" />
<path d="M589.7,416 H593.3 V419.5 H589.7 Z" fill="#555" stroke="none" stroke-width="0" />
<circle cx="586.4" cy="207.8" r="13.0" fill="#fff" stroke="#555" stroke-width="1.0" />
<circle cx="586.4" cy="207.8" r="7.4" fill="none" stroke="#555" stroke-width="0.9" />
<line x1="567.0" y1="207.5" x2="604.2" y2="207.5" stroke="#555" stroke-width="0.8" />
<line x1="586.5" y1="188.0" x2="586.5" y2="219.7" stroke="#555" stroke-width="0.8" />
<line x1="586.5" y1="225.0" x2="586.5" y2="446.0" stroke="#444" stroke-width="0.9" stroke-dasharray="12 2 2 2"/>
<line x1="471.3" y1="331.5" x2="701.0" y2="331.5" stroke="#444" stroke-width="0.9" stroke-dasharray="14 3 3 3"/>
<line x1="697.8" y1="202.5" x2="600.3" y2="202.5" stroke="#333" stroke-width="1" />
<path d="M600.3,202.5 L607.8,201.1 L607.8,203.9 Z" fill="#222"/>
<line x1="697.6" y1="247.5" x2="627.8" y2="247.5" stroke="#333" stroke-width="1" />
<path d="M627.8,247.5 L635.3,246.1 L635.3,248.9 Z" fill="#222"/>
<line x1="697.6" y1="274.5" x2="626.7" y2="274.5" stroke="#333" stroke-width="1" />
<path d="M626.7,274.5 L634.2,273.1 L634.2,275.9 Z" fill="#222"/>
<path d="M468.3,267.3 H552.1 L580.6,293.7" fill="none" stroke="#333" stroke-width="1" />
<path d="M580.6,293.7 L574.1,289.6 L576.0,287.6 Z" fill="#222"/>
<path d="M468.3,287 H551.2 L580.6,313.2" fill="none" stroke="#333" stroke-width="1" />
<path d="M580.6,313.2 L574.1,309.3 L575.9,307.2 Z" fill="#222"/>
<path d="M468.3,370 H553.3 L578.9,394.4" fill="none" stroke="#333" stroke-width="1" />
<path d="M578.9,394.4 L572.5,390.2 L574.4,388.2 Z" fill="#222"/>
<path d="M468.3,393.3 H555.6 L577.8,416.7" fill="none" stroke="#333" stroke-width="1" />
<path d="M577.8,416.7 L571.6,412.2 L573.7,410.3 Z" fill="#222"/>
<path d="M697,407.5 H604.4 L588.9,422.2" fill="none" stroke="#333" stroke-width="1" />
<path d="M588.9,422.2 L593.4,416.0 L595.3,418.1 Z" fill="#222"/>
<line x1="697.0" y1="432.5" x2="592.2" y2="432.5" stroke="#333" stroke-width="1" />
<path d="M592.2,432.5 L599.7,431.1 L599.7,433.9 Z" fill="#222"/>
<circle cx="705.8" cy="201.8" r="8.2" fill="#fff" stroke="#333" stroke-width="1.3"/>
<text x="705.8" y="206.3" font-size="11" text-anchor="middle" fill="#222" stroke="#222" stroke-width="0.25">10</text>
<circle cx="705.6" cy="247.8" r="8.2" fill="#fff" stroke="#333" stroke-width="1.3"/>
<text x="705.6" y="252.3" font-size="12" text-anchor="middle" fill="#222" stroke="#222" stroke-width="0.25">1</text>
<circle cx="705.6" cy="274.4" r="8.2" fill="#fff" stroke="#333" stroke-width="1.3"/>
<text x="705.6" y="278.9" font-size="12" text-anchor="middle" fill="#222" stroke="#222" stroke-width="0.25">2</text>
<circle cx="460.3" cy="267.1" r="8.2" fill="#fff" stroke="#333" stroke-width="1.3"/>
<text x="460.3" y="271.6" font-size="12" text-anchor="middle" fill="#222" stroke="#222" stroke-width="0.25">3</text>
<circle cx="460.3" cy="286.7" r="8.2" fill="#fff" stroke="#333" stroke-width="1.3"/>
<text x="460.3" y="291.2" font-size="12" text-anchor="middle" fill="#222" stroke="#222" stroke-width="0.25">4</text>
<circle cx="460.3" cy="369.9" r="8.2" fill="#fff" stroke="#333" stroke-width="1.3"/>
<text x="460.3" y="374.4" font-size="12" text-anchor="middle" fill="#222" stroke="#222" stroke-width="0.25">5</text>
<circle cx="460.3" cy="393.1" r="8.2" fill="#fff" stroke="#333" stroke-width="1.3"/>
<text x="460.3" y="397.6" font-size="12" text-anchor="middle" fill="#222" stroke="#222" stroke-width="0.25">6</text>
<circle cx="705.0" cy="407.7" r="8.2" fill="#fff" stroke="#333" stroke-width="1.3"/>
<text x="705.0" y="412.2" font-size="12" text-anchor="middle" fill="#222" stroke="#222" stroke-width="0.25">7</text>
<circle cx="705.0" cy="432.3" r="8.2" fill="#fff" stroke="#333" stroke-width="1.3"/>
<text x="705.0" y="436.8" font-size="12" text-anchor="middle" fill="#222" stroke="#222" stroke-width="0.25">8</text>
</svg>
</body></html>
